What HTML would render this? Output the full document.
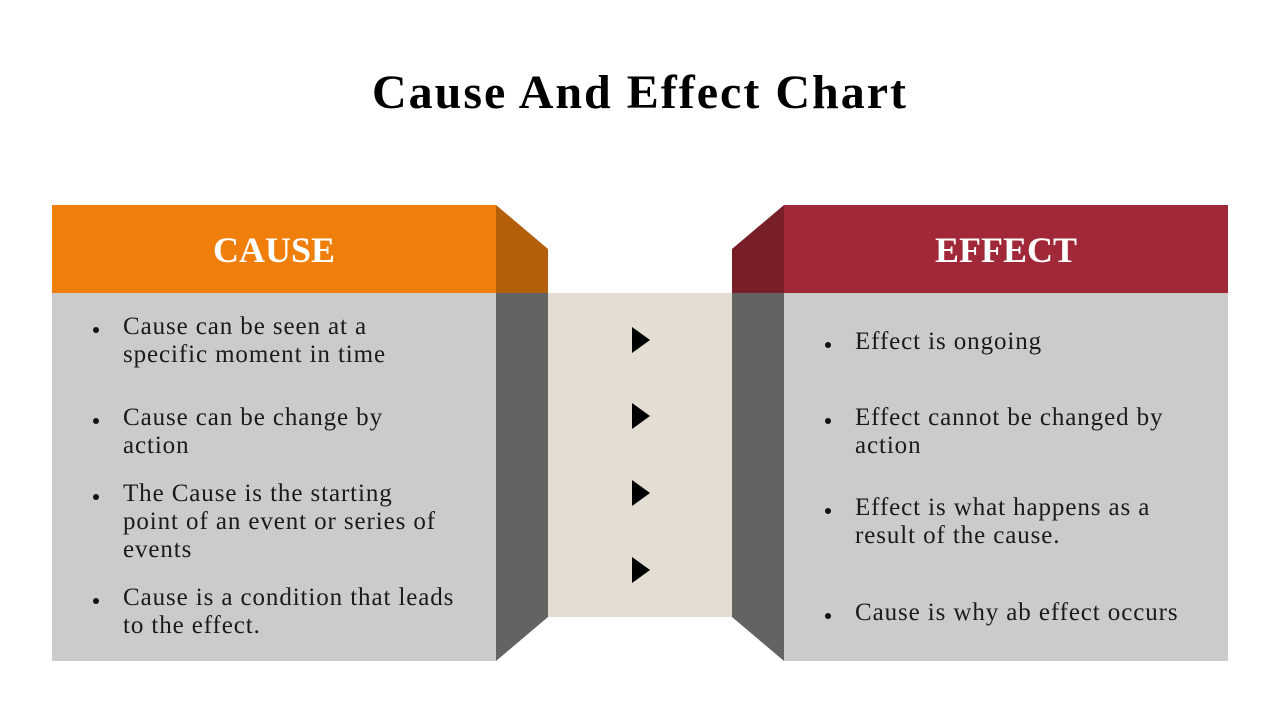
<!DOCTYPE html>
<html><head><style>
body{margin:0;width:1280px;height:720px;background:#fff;position:relative;overflow:hidden;font-family:"Liberation Serif",serif;}
.t{position:absolute;color:#1a1a1a;font-size:25px;line-height:28px;letter-spacing:0.9px;white-space:nowrap;}
.b{position:absolute;width:6px;height:6px;border-radius:50%;background:#111;}
</style></head><body>
<svg width="1280" height="720" style="position:absolute;left:0;top:0">
<rect x="52" y="205" width="444" height="88" fill="#ef7f0a"/>
<polygon points="496,205 548,249 548,293 496,293" fill="#b45f09"/>
<rect x="52" y="293" width="444" height="368" fill="#cbcbcb"/>
<polygon points="496,293 548,293 548,617 496,661" fill="#636363"/>
<rect x="548" y="293" width="184" height="324" fill="#e3ddd2"/>
<rect x="784" y="205" width="444" height="88" fill="#a12838"/>
<polygon points="784,205 732,249 732,293 784,293" fill="#771e29"/>
<rect x="784" y="293" width="444" height="368" fill="#cbcbcb"/>
<polygon points="732,293 784,293 784,661 732,617" fill="#636363"/>
<polygon points="632,327 650,340 632,353" fill="#000"/>
<polygon points="632,403 650,416 632,429" fill="#000"/>
<polygon points="632,480 650,493 632,506" fill="#000"/>
<polygon points="632,557 650,570 632,583" fill="#000"/>
<text x="640" y="108" text-anchor="middle" font-family="Liberation Serif" font-weight="bold" font-size="48" letter-spacing="2" fill="#000">Cause And Effect Chart</text>
<text x="274" y="262" text-anchor="middle" font-family="Liberation Serif" font-weight="bold" font-size="36" fill="#fff">CAUSE</text>
<text x="1006" y="262" text-anchor="middle" font-family="Liberation Serif" font-weight="bold" font-size="36" fill="#fff">EFFECT</text>
</svg>
<div class="b" style="left:93px;top:327px"></div><div class="t" style="left:123px;top:313px">Cause can be seen at a<br>specific moment in time</div>
<div class="b" style="left:93px;top:418px"></div><div class="t" style="left:123px;top:404px">Cause can be change by<br>action</div>
<div class="b" style="left:93px;top:494px"></div><div class="t" style="left:123px;top:480px">The Cause is the starting<br>point of an event or series of<br>events</div>
<div class="b" style="left:93px;top:598px"></div><div class="t" style="left:123px;top:584px">Cause is a condition that leads<br>to the effect.</div>
<div class="b" style="left:825px;top:342px"></div><div class="t" style="left:855px;top:328px">Effect is ongoing</div>
<div class="b" style="left:825px;top:418px"></div><div class="t" style="left:855px;top:404px">Effect cannot be changed by<br>action</div>
<div class="b" style="left:825px;top:508px"></div><div class="t" style="left:855px;top:494px">Effect is what happens as a<br>result of the cause.</div>
<div class="b" style="left:825px;top:613px"></div><div class="t" style="left:855px;top:599px">Cause is why ab effect occurs</div>
</body></html>
